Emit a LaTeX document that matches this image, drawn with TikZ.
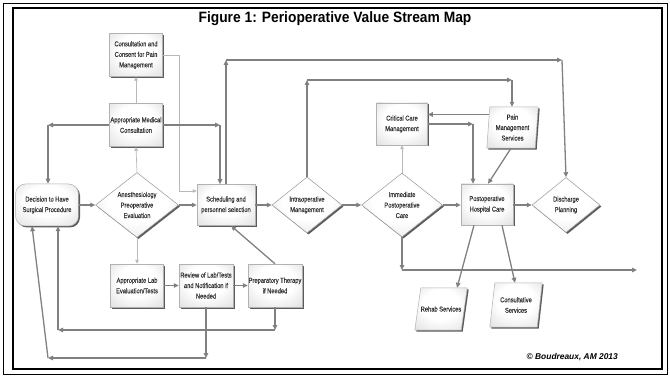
\documentclass[tikz,border=0pt]{standalone}
\usepackage{fontspec}
\setmainfont{Liberation Sans}
\newfontfamily\narrowfont[FakeStretch=0.82,FakeBold=0.3]{Liberation Sans}
\newfontfamily\titlefont[FakeStretch=0.92]{Liberation Sans}
\usetikzlibrary{shapes.geometric,arrows.meta,shadows,calc}
\pgfdeclareradialshading{boxshade}{\pgfpoint{0bp}{8bp}}{color(0bp)=(white); color(18bp)=(white); color(34bp)=(black!10); color(46bp)=(black!28); color(50bp)=(black!32)}
\tikzset{
  lbl/.style={font=\narrowfont\fontsize{7}{10.5}\selectfont, text=black!80, align=center, inner sep=0pt},
  shadowed/.style={drop shadow={shadow xshift=1.5pt, shadow yshift=-1.5pt, fill=black!75, opacity=0.85}},
  box/.style={lbl, rectangle, draw=black!30, line width=0.5pt, shading=boxshade, shadowed, minimum width=53pt, minimum height=43pt},
  dia/.style={diamond, draw=black!40, line width=0.5pt, shading=boxshade, shadowed, inner sep=0pt},
  anchorbox/.style={rectangle, inner sep=0pt},
  pshape/.style={draw=black!30, line width=0.5pt, shading=boxshade, shadowed},
  arr/.style={draw=black!50, line width=1.3pt, -{Triangle[length=5pt,width=4.5pt]}},
  thinarr/.style={draw=black!28, line width=0.7pt, -{Triangle[length=4pt,width=3.5pt]}},
}
\begin{document}
\begin{tikzpicture}[x=1pt,y=-1pt]
\useasboundingbox (0,0) rectangle (670,377);
% frame
\draw[black, line width=0.8pt] (3,3) rectangle (667,374);
\draw[black, line width=2pt] (13,8.5) rectangle (662,369);
\node[font=\titlefont\bfseries\fontsize{15}{17}\selectfont] (title) at (335,19) {Figure 1: Perioperative Value Stream Map};
% nodes
\node[box] (cc) at (136,55) {Consultation and\\Consent for Pain\\Management};
\node[box] (amc) at (136,125) {Appropriate Medical\\Consultation};
\node[box, rounded corners=10pt, minimum width=63pt, minimum height=42pt] (dec) at (47,205) {Decision to Have\\Surgical Procedure};
\node[dia, minimum width=83pt, minimum height=65pt] (anes) at (137,205) {};
\node[lbl] (anest) at (anes) {Anesthesiology\\Preoperative\\Evaluation};
\node[box, minimum width=58pt, minimum height=41pt] (sched) at (226,205) {Scheduling and\\personnel selection};
\node[dia, minimum width=70pt, minimum height=56pt] (intra) at (307,205) {};
\node[lbl] (intrat) at (intra) {Intraoperative\\Management};
\node[dia, minimum width=81pt, minimum height=64pt] (imm) at (402,205) {};
\node[lbl] (immt) at (imm) {Immediate\\Postoperative\\Care};
\node[box, minimum width=51pt, minimum height=42pt] (crit) at (402,124) {Critical Care\\Management};
\node[anchorbox, minimum width=51pt, minimum height=41pt] (pain) at (512.5,127.5) {};
\path[pshape] ($(pain.north west)+(3,0)$) -- (pain.north east) -- ($(pain.south east)+(-3,0)$) -- (pain.south west) -- cycle;
\node[lbl] (paint) at (pain) {Pain\\Management\\Services};
\node[box, minimum width=52pt, minimum height=41pt] (post) at (487,204.5) {Postoperative\\Hospital Care};
\node[dia, minimum width=68pt, minimum height=55pt] (dis) at (566,205) {};
\node[lbl] (dist) at (dis) {Discharge\\Planning};
\node[box] (lab) at (137,285.5) {Appropriate Lab\\Evaluation/Tests};
\node[box, minimum width=54pt] (rev) at (206,285.5) {Review of Lab/Tests\\and Notification if\\Needed};
\node[box, minimum width=54pt] (prep) at (275,285.5) {Preparatory Therapy\\if Needed};
\node[anchorbox, minimum width=52pt, minimum height=42pt] (rehab) at (441,309) {};
\path[pshape] ($(rehab.north west)+(6,0)$) -- (rehab.north east) -- ($(rehab.south east)+(-6,0)$) -- (rehab.south west) -- cycle;
\node[lbl] (rehabt) at (rehab) {Rehab Services};
\node[anchorbox, minimum width=52pt, minimum height=44pt] (cons) at (516,305) {};
\path[pshape] ($(cons.north west)+(5,0)$) -- (cons.north east) -- ($(cons.south east)+(-5,0)$) -- (cons.south west) -- cycle;
\node[lbl] (const) at (cons) {Consultative\\Services};
\node[font=\bfseries\itshape\fontsize{8.4}{10}\selectfont, anchor=east, inner sep=0pt] (copy) at (618,357) {© Boudreaux, AM 2013};
% corner points
\coordinate (c1) at (48,125);
\coordinate (c2) at (220,125);
\coordinate (c3) at (179,55);
\coordinate (c4) at (179,191);
\coordinate (c5) at (226,60);
\coordinate (c6) at (562,60);
\coordinate (c7) at (307,80);
\coordinate (c8) at (512,80);
\coordinate (c10) at (473,124);
\coordinate (c11) at (402,270);
\coordinate (c12) at (637,270);
\coordinate (c13) at (275,330);
\coordinate (c14) at (58,330);
\coordinate (c15) at (206,358);
\coordinate (c16) at (48,358);
% main row
\draw[arr] (dec.east) -- (anes.west);
\draw[arr] (anes.east) -- (sched.west);
\draw[arr] (sched.east) -- (intra.west);
\draw[arr] (intra.east) -- (imm.west);
\draw[arr] (imm.east) -- (imm.east -| post.west);
\draw[arr] (post.east |- dis.west) -- (dis.west);
% thin vertical links
\draw[thinarr] (anes.north) -- (amc.south);
\draw[thinarr] (amc.north) -- (cc.south);
\draw[thinarr] (anes.south) -- (lab.north);
\draw[thinarr] (imm.north) -- (crit.south);
\draw[thinarr] (cc.east) -- (c3) -- (c4) -- (c4 -| sched.west);
% upper loops
\draw[arr] (amc.west) -- (c1);
\draw[arr] (c1) -- (c1 |- dec.north);
\draw[arr] (amc.east) -- (c2);
\draw[arr] (c2) -- (c2 |- sched.north);
\draw[arr] (sched.north) -- (c5);
\draw[arr] (c5) -- (c6);
\draw[arr] (c6) -- (dis.north);
\draw[arr] (intra.north) -- (c7);
\draw[arr] (c7) -- (c8);
\draw[arr] (c8) -- (c8 |- pain.north);
\draw[arr] ([xshift=2pt,yshift=13pt]pain.west) -- ([yshift=13pt]pain.west -| crit.east);
\draw[arr] (crit.east) -- (c10);
\draw[arr] (c10) -- (c10 |- post.north);
\draw[arr] ([xshift=-1.5pt]pain.south) -- ([xshift=1pt]post.north);
% right lower
\draw[arr] (imm.south) -- (c11);
\draw[arr] (c11) -- (c12);
\draw[arr] ([xshift=-13pt]post.south) -- ([xshift=16pt]rehab.north);
\draw[arr] ([xshift=15pt]post.south) -- ([xshift=-1pt]cons.north);
% lower left
\draw[arr] (lab.east) -- (rev.west);
\draw[arr] (rev.east) -- (prep.west);
\draw[arr] (prep.north) -- ([xshift=5pt]sched.south);
\draw[arr] (prep.south) -- (c13);
\draw[arr] (c13) -- (c14);
\draw[arr] (c14) -- (c14 |- dec.south);
\draw[arr] (rev.south) -- (c15);
\draw[arr] (c15) -- (c16);
\draw[arr] (c16) -- ([xshift=-15pt]dec.south);
\end{tikzpicture}
\end{document}
